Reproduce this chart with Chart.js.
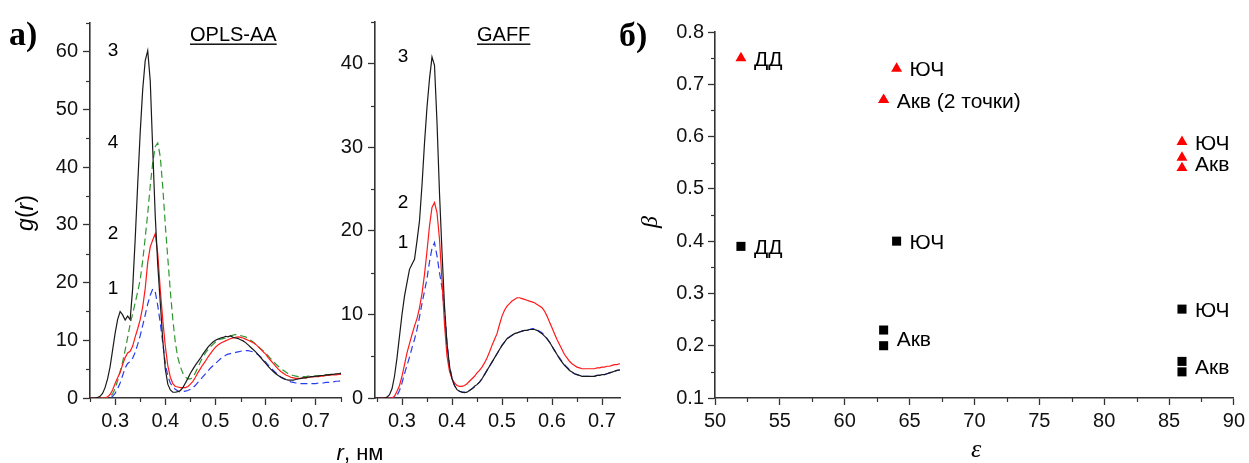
<!DOCTYPE html>
<html>
<head>
<meta charset="utf-8">
<script src="https://cdn.jsdelivr.net/npm/chart.js@4.4.1/dist/chart.umd.min.js"></script>
<style>
  html, body { margin: 0; padding: 0; background: #fff; }
  #wrap { position: relative; width: 1249px; height: 463px; overflow: hidden; }
  #wrap canvas { position: absolute; left: 0; top: 0; }
</style>
</head>
<body>
<div id="wrap">
  <canvas id="opls" width="1249" height="463"></canvas>
  <canvas id="gaff" width="1249" height="463"></canvas>
  <canvas id="beta" width="1249" height="463"></canvas>
</div>
<script>
// ---- radial distribution functions g(r), r in nm ----
const rGrid = [
  0.250,0.255,0.260,0.265,0.270,0.275,0.280,0.285,0.290,0.295,
  0.300,0.305,0.310,0.315,0.320,0.325,0.330,0.335,0.340,0.345,
  0.350,0.355,0.360,0.365,0.370,0.375,0.380,0.385,0.390,0.395,
  0.400,0.405,0.410,0.415,0.420,0.425,0.430,0.435,0.440,0.445,
  0.450,0.455,0.460,0.465,0.470,0.475,0.480,0.485,0.490,0.495,
  0.500,0.505,0.510,0.515,0.520,0.525,0.530,0.535,0.540,0.545,
  0.550,0.555,0.560,0.565,0.570,0.575,0.580,0.585,0.590,0.595,
  0.600,0.605,0.610,0.615,0.620,0.625,0.630,0.635,0.640,0.645,
  0.650,0.655,0.660,0.665,0.670,0.675,0.680,0.685,0.690,0.695,
  0.700,0.705,0.710,0.715,0.720,0.725,0.730,0.735,0.740,0.745,
  0.750
];

// OPLS-AA
const oplsCurve3 = [
  0,0,0,0.1,0.3,0.8,1.8,3.3,5.4,8.3,
  11.2,13.6,15.0,14.4,13.5,14.2,13.6,19.0,27.5,37.0,
  46.0,53.5,58.5,60.2,55.0,43.0,31.5,23.0,16.5,10.0,
  5.0,2.4,1.4,1.0,1.0,1.1,1.3,1.8,2.6,3.4,
  4.3,5.0,5.7,6.3,6.9,7.6,8.2,8.8,9.3,9.7,
  10.0,10.2,10.4,10.5,10.7,10.6,10.8,10.5,10.4,10.3,
  10.1,9.9,9.6,9.2,8.8,8.4,8.0,7.5,7.0,6.5,
  6.0,5.5,5.0,4.6,4.2,3.9,3.6,3.4,3.2,3.1,
  3.1,3.1,3.2,3.3,3.4,3.5,3.5,3.6,3.7,3.7,
  3.8,3.8,3.9,3.9,4.0,4.0,4.1,4.1,4.2,4.2,
  4.3
];
const oplsCurve4 = [
  0,0,0,0,0,0,0,0.1,0.3,0.7,
  1.6,3.0,4.6,6.2,8.3,10.5,12.8,14.6,16.5,18.4,
  20.5,23.8,27.8,32.0,36.8,40.8,43.6,44.2,41.8,36.5,
  30.0,24.2,18.5,13.6,9.6,7.0,5.4,4.3,3.6,3.3,
  3.3,3.6,4.4,5.3,6.3,7.1,7.8,8.4,8.9,9.3,
  9.7,10.0,10.2,10.3,10.4,10.6,10.7,10.9,11.0,10.9,
  10.8,10.7,10.6,10.3,10.0,9.7,9.3,8.9,8.5,8.2,
  7.8,7.3,6.8,6.4,5.9,5.5,5.1,4.8,4.5,4.2,
  4.0,3.9,3.8,3.7,3.7,3.7,3.7,3.8,3.8,3.8,
  3.8,3.9,3.9,3.9,4.0,4.0,4.0,4.1,4.1,4.1,
  4.2
];
const oplsCurve2 = [
  0,0,0,0,0,0,0,0.2,0.6,1.4,
  2.5,3.5,4.4,5.8,7.0,7.8,8.1,9.0,10.6,12.0,
  13.6,15.8,19.0,23.5,26.2,27.4,28.5,25.0,18.8,13.5,
  9.0,5.6,3.6,2.5,2.0,1.9,1.8,1.8,1.8,2.0,
  2.4,2.9,3.6,4.4,5.1,5.8,6.4,7.1,7.7,8.3,
  8.8,9.2,9.5,9.7,9.9,10.1,10.3,10.4,10.5,10.6,
  10.5,10.4,10.2,10.0,9.8,9.6,9.3,8.9,8.5,8.0,
  7.6,7.0,6.5,6.0,5.5,5.0,4.6,4.3,4.0,3.8,
  3.6,3.5,3.4,3.4,3.4,3.5,3.5,3.6,3.6,3.7,
  3.7,3.7,3.8,3.8,3.9,3.9,4.0,4.0,4.0,4.1,
  4.1
];
const oplsCurve1 = [
  0,0,0,0,0,0,0,0,0,0.3,
  0.8,1.6,2.6,3.9,5.2,6.0,6.3,6.9,7.9,9.3,
  10.8,12.6,14.4,16.3,17.8,18.9,18.4,16.0,13.0,9.5,
  6.0,3.8,2.6,1.9,1.5,1.2,1.0,1.1,1.2,1.3,
  1.5,1.8,2.2,2.7,3.2,3.7,4.2,4.7,5.2,5.6,
  6.0,6.4,6.8,7.1,7.4,7.6,7.7,7.8,7.9,8.0,
  8.1,8.2,8.2,8.2,8.1,8.0,7.8,7.5,7.1,6.7,
  6.2,5.7,5.2,4.8,4.4,4.0,3.7,3.4,3.2,3.0,
  2.8,2.7,2.6,2.6,2.5,2.5,2.5,2.5,2.5,2.5,
  2.5,2.6,2.6,2.6,2.7,2.7,2.8,2.8,2.9,2.9,
  3.0
];

// GAFF
const gaffCurve3 = [
  0,0,0,0,0.1,0.4,1.1,2.6,4.8,7.4,
  10.0,12.2,13.8,15.4,16.0,16.6,18.8,21.2,25.5,30.5,
  34.8,38.2,40.8,39.8,33.0,24.5,17.5,11.0,6.5,3.8,
  2.3,1.5,1.0,0.8,0.7,0.65,0.7,0.9,1.1,1.4,
  1.6,1.9,2.3,2.8,3.3,3.8,4.3,4.8,5.3,5.8,
  6.3,6.7,7.1,7.3,7.5,7.7,7.8,7.9,8.0,8.1,
  8.1,8.2,8.2,8.2,8.1,7.9,7.7,7.4,7.1,6.7,
  6.2,5.7,5.2,4.7,4.3,3.9,3.6,3.3,3.1,2.9,
  2.8,2.7,2.6,2.6,2.6,2.6,2.6,2.6,2.7,2.7,
  2.8,2.8,2.9,3.0,3.1,3.2,3.3,3.35,3.4,3.5,
  3.5
];
const gaffCurve2 = [
  0,0,0,0,0,0,0,0.2,0.8,1.5,
  2.6,4.0,5.4,6.5,7.6,8.6,9.5,10.8,12.5,14.8,
  17.6,20.6,22.8,23.4,22.2,19.0,14.0,8.8,5.0,3.2,
  2.3,1.8,1.5,1.4,1.4,1.5,1.7,2.0,2.3,2.6,
  3.0,3.3,3.7,4.2,4.8,5.5,6.3,7.0,7.7,8.8,
  9.8,10.5,11.0,11.3,11.6,11.8,12.0,12.0,11.9,11.8,
  11.7,11.6,11.5,11.4,11.2,11.0,10.8,10.4,9.8,9.1,
  8.4,7.7,7.0,6.4,5.8,5.2,4.8,4.4,4.1,3.9,
  3.7,3.6,3.5,3.5,3.5,3.5,3.5,3.5,3.6,3.6,
  3.7,3.7,3.8,3.8,3.9,4.0,4.0,4.1,4.1,4.2,
  4.2
];
const gaffCurve1 = [
  0,0,0,0,0,0,0,0,0.3,0.9,
  1.8,2.9,3.9,4.9,6.0,7.0,8.2,9.7,11.3,12.8,
  14.3,16.3,17.9,18.6,17.0,15.0,13.2,10.5,6.6,3.9,
  2.4,1.5,1.0,0.8,0.7,0.7,0.75,0.9,1.1,1.3,
  1.6,1.9,2.3,2.8,3.3,3.8,4.3,4.8,5.3,5.8,
  6.3,6.7,7.1,7.3,7.5,7.7,7.8,7.9,8.0,8.1,
  8.1,8.2,8.3,8.3,8.2,8.0,7.8,7.5,7.1,6.7,
  6.2,5.7,5.2,4.8,4.4,4.0,3.7,3.4,3.1,2.9,
  2.8,2.7,2.6,2.6,2.6,2.6,2.6,2.6,2.7,2.7,
  2.8,2.8,2.9,3.0,3.1,3.2,3.3,3.35,3.4,3.5,
  3.5
];

const rTicks = [0.3, 0.4, 0.5, 0.6, 0.7];
const oplsYTicks = [0, 10, 20, 30, 40, 50, 60];
const gaffYTicks = [0, 10, 20, 30, 40];

// curve numbers, placed at the height of each curve's first peak
const oplsCurveTags = ['1', '2', '4', '3'];
const oplsCurveTagG = [19.0, 28.5, 44.2, 60.2];
const gaffCurveTags = ['1', '2', '3'];
const gaffCurveTagG = [18.6, 23.4, 40.8];

// ---- β versus ε ----
const epsTriangles = [52, 64, 63, 63, 86, 86, 86];
const betaTriangles = [0.75, 0.73, 0.67, 0.67, 0.59, 0.56, 0.54];
const epsSquares = [52, 64, 63, 63, 86, 86, 86];
const betaSquares = [0.39, 0.40, 0.23, 0.20, 0.27, 0.17, 0.15];

const pointTagText = ['ДД', 'ЮЧ', 'Акв (2 точки)', 'ЮЧ', 'Акв', 'ДД', 'ЮЧ', 'Акв', 'ЮЧ', 'Акв'];
const pointTagEps  = [52, 64, 63, 86, 86, 52, 64, 63, 86, 86];
const pointTagBeta = [0.75, 0.73, 0.67, 0.59, 0.55, 0.39, 0.40, 0.215, 0.27, 0.16];

const epsTicks = [50, 55, 60, 65, 70, 75, 80, 85, 90];
const betaTicks = [0.1, 0.2, 0.3, 0.4, 0.5, 0.6, 0.7, 0.8];

// ---- shared styling ----
const AXIS = '#333333';
const SANS = '"Liberation Sans", Arial, sans-serif';
const SERIF = '"Liberation Serif", "Times New Roman", serif';

function pairs(xs, ys) { return xs.map((x, i) => ({ x: x, y: ys[i] })); }

// minor ticks and text drawn over a panel; the settings live in the closure
function makeDecor(cfg) {
  return {
    id: 'decor',
    afterDraw(chart) {
      const ctx = chart.ctx;
      const xs = chart.scales.x, ys = chart.scales.y, area = chart.chartArea;

      const minor = (scale, step, len, axis) => {
        const majors = scale.ticks.map(t => t.value);
        const n0 = Math.ceil(scale.min / step - 1e-6), n1 = Math.floor(scale.max / step + 1e-6);
        ctx.save();
        ctx.strokeStyle = AXIS;
        ctx.lineWidth = 1.2;
        for (let n = n0; n <= n1; n++) {
          const v = n * step;
          if (majors.some(m => Math.abs(m - v) < step * 1e-3)) continue;
          const p = Math.round(scale.getPixelForValue(v)) + 0.5;
          ctx.beginPath();
          if (axis === 'x') { ctx.moveTo(p, area.bottom); ctx.lineTo(p, area.bottom + len); }
          else { ctx.moveTo(area.left, p); ctx.lineTo(area.left - len, p); }
          ctx.stroke();
        }
        ctx.restore();
      };
      minor(xs, cfg.minorX, cfg.minorLen, 'x');
      minor(ys, cfg.minorY, cfg.minorLen, 'y');

      cfg.items.forEach(it => {
        let px = it.px, py = it.py;
        if (it.at) {
          px = xs.getPixelForValue(it.at[0]) + (it.dx || 0);
          py = ys.getPixelForValue(it.at[1]) + (it.dy || 0);
        }
        const runs = it.runs || [[it.text, it.font]];
        ctx.save();
        ctx.translate(px, py);
        if (it.rotate) ctx.rotate(it.rotate);
        ctx.textAlign = 'left';
        ctx.textBaseline = it.baseline || 'alphabetic';
        ctx.fillStyle = it.color || '#000';
        let total = 0;
        runs.forEach(r => { ctx.font = r[1]; total += ctx.measureText(r[0]).width; });
        let cx = it.align === 'center' ? -total / 2 : it.align === 'right' ? -total : 0;
        const x0 = cx;
        runs.forEach(r => { ctx.font = r[1]; ctx.fillText(r[0], cx, 0); cx += ctx.measureText(r[0]).width; });
        if (it.underline) ctx.fillRect(x0, 2.5, total, 1.4);
        ctx.restore();
      });
    }
  };
}

function axisOpts(extra) {
  return Object.assign({
    type: 'linear',
    grid: { display: true, drawOnChartArea: false, drawTicks: true, tickLength: 7,
            tickColor: AXIS, tickWidth: 1.3, color: AXIS },
    border: { display: true, color: AXIS, width: 1.6 },
  }, extra);
}

function fixedTicks(list) {
  return scale => { scale.ticks = list.map(v => ({ value: v })); };
}

// put the plot area at [left, top, right, bottom] of a full-window canvas
function placeArea(left, top, right, bottom, yW, xH) {
  return {
    layout: { padding: { left: left - yW, top: top, right: 1249 - right, bottom: 463 - bottom - xH } },
    yFit: s => { s.width = yW; },
    xFit: s => { s.height = xH; }
  };
}

function rdfChart(id, area, yMax, yTicks, xMin, xMax, sets, extraItems, tagX, tags, tagG) {
  const place = placeArea(area[0], area[1], area[2], area[3], 80, 50);
  const items = tags.map((t, i) => ({ text: t, font: '19px ' + SANS, at: [tagX, tagG[i]], align: 'center', baseline: 'middle' }))
    .concat(extraItems);
  return new Chart(document.getElementById(id), {
    type: 'line',
    data: {
      datasets: sets.map(s => ({
        data: pairs(rGrid, s.g), borderColor: s.color, borderWidth: 1.2,
        borderDash: s.dash || [], pointRadius: 0, tension: 0, fill: false
      }))
    },
    options: {
      responsive: false, animation: false, events: [], devicePixelRatio: 1,
      layout: place.layout,
      plugins: { legend: { display: false }, tooltip: { enabled: false } },
      scales: {
        x: axisOpts({ min: xMin, max: xMax, afterBuildTicks: fixedTicks(rTicks), afterFit: place.xFit,
          ticks: { color: '#111', font: { family: SANS, size: 20 }, padding: 4, maxRotation: 0,
                   callback: v => v.toFixed(1) } }),
        y: axisOpts({ min: 0, max: yMax, afterBuildTicks: fixedTicks(yTicks), afterFit: place.yFit,
          ticks: { color: '#111', font: { family: SANS, size: 20 }, padding: 5,
                   callback: v => String(v) } })
      }
    },
    plugins: [makeDecor({ minorX: 0.05, minorY: 5, minorLen: 4, items: items })]
  });
}

// OPLS-AA panel
rdfChart('opls', [90, 23, 341, 398], 65, oplsYTicks, 0.25, 0.75, [
  { g: oplsCurve3, color: '#1a1a1a' },
  { g: oplsCurve2, color: '#ff1a1a' },
  { g: oplsCurve4, color: '#2f962f', dash: [7, 4] },
  { g: oplsCurve1, color: '#2a3cf0', dash: [7, 4] }
], [
  { text: 'a)', font: 'bold 34px ' + SERIF, px: 9, py: 45 },
  { text: 'OPLS-AA', font: '20px ' + SANS, px: 190, py: 41, underline: true },
  { runs: [['g', 'italic 23px ' + SANS], ['(', '23px ' + SANS], ['r', 'italic 23px ' + SANS], [')', '23px ' + SANS]],
    px: 33, py: 213, rotate: -Math.PI / 2, align: 'center' },
  { runs: [['r', 'italic 22px ' + SANS], [', нм', '22px ' + SANS]], px: 360, py: 460, align: 'center' }
], 0.296, oplsCurveTags, oplsCurveTagG);

// GAFF panel
rdfChart('gaff', [375, 22, 620, 398], 45, gaffYTicks, 0.246, 0.736, [
  { g: gaffCurve3, color: '#1a1a1a' },
  { g: gaffCurve2, color: '#ff1a1a' },
  { g: gaffCurve1, color: '#2a3cf0', dash: [7, 4] }
], [
  { text: 'GAFF', font: '20px ' + SANS, px: 477, py: 41, underline: true }
], 0.302, gaffCurveTags, gaffCurveTagG);

// β versus ε panel
(function () {
  const place = placeArea(715, 32, 1237, 398, 80, 50);
  const items = pointTagText.map((t, i) => ({
    text: t, font: '21px ' + SANS, at: [pointTagEps[i], pointTagBeta[i]], dx: 13, dy: 2, baseline: 'middle'
  })).concat([
    { text: 'б)', font: 'bold 34px ' + SERIF, px: 619, py: 46 },
    { text: 'β', font: 'italic 24px ' + SERIF, px: 657, py: 222, rotate: -Math.PI / 2, align: 'center' },
    { text: 'ε', font: 'italic 26px ' + SERIF, px: 976, py: 457, align: 'center' }
  ]);
  new Chart(document.getElementById('beta'), {
    type: 'scatter',
    data: {
      datasets: [
        { data: pairs(epsTriangles, betaTriangles), pointStyle: 'triangle', pointRadius: 6.3,
          backgroundColor: '#ff0000', borderColor: '#ff0000', borderWidth: 0 },
        { data: pairs(epsSquares, betaSquares), pointStyle: 'rect', pointRadius: 6.4,
          backgroundColor: '#000', borderColor: '#000', borderWidth: 0 }
      ]
    },
    options: {
      responsive: false, animation: false, events: [], devicePixelRatio: 1,
      layout: place.layout,
      plugins: { legend: { display: false }, tooltip: { enabled: false } },
      scales: {
        x: axisOpts({ min: 50, max: 90, afterBuildTicks: fixedTicks(epsTicks), afterFit: place.xFit,
          ticks: { color: '#111', font: { family: SANS, size: 20 }, padding: 4, maxRotation: 0,
                   callback: v => String(v) } }),
        y: axisOpts({ min: 0.1, max: 0.8, afterBuildTicks: fixedTicks(betaTicks), afterFit: place.yFit,
          ticks: { color: '#111', font: { family: SANS, size: 20 }, padding: 4,
                   callback: v => v.toFixed(1) } })
      }
    },
    plugins: [makeDecor({ minorX: 2.5, minorY: 0.05, minorLen: 4, items: items })]
  });
})();
</script>
</body>
</html>
